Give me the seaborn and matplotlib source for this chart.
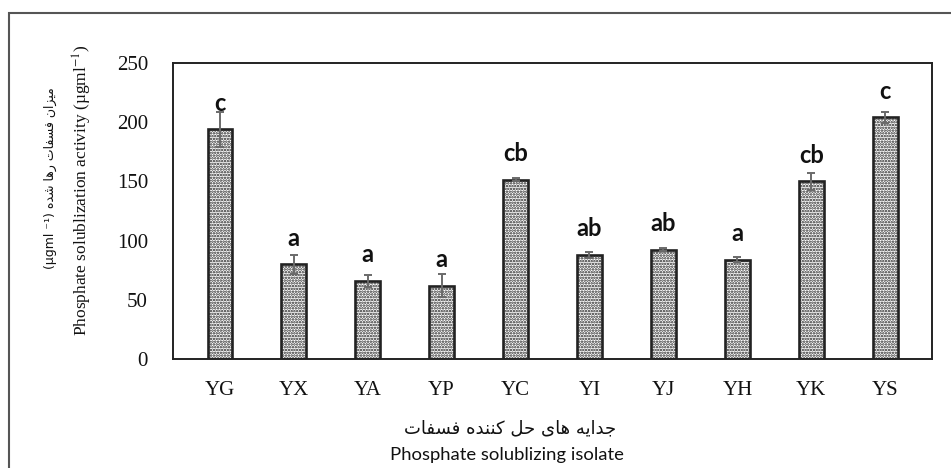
import matplotlib
matplotlib.use("Agg")
import matplotlib.pyplot as plt
import matplotlib.patches as mpatches
import numpy as np
import pandas as pd
import seaborn as sns

# Isolates, mean solubilized phosphate and standard errors
isolates = ["YG", "YX", "YA", "YP", "YC", "YI", "YJ", "YH", "YK", "YS"]
activity = [194, 80, 66, 62, 151.5, 88, 92.3, 84, 150, 204]
errors = [15, 8, 5, 9.5, 1, 2.5, 1.2, 2, 7, 5]
groups = ["c", "a", "a", "a", "cb", "ab", "ab", "a", "cb", "c"]
y_ticks = [0, 50, 100, 150, 200, 250]

xlabel_fa = "جدایه های حل کننده فسفات"
xlabel_en = "Phosphate solublizing isolate"
ylabel_fa = "میزان فسفات رها شده"
ylabel_en = "Phosphate solublization activity (µgml$^{-1}$)"

# --- minimal Persian shaping (presentation forms + visual order) ---
FORMS = {
    "ا": ("\uFE8D", "\uFE8E", None, None),
    "د": ("\uFEA9", "\uFEAA", None, None),
    "ر": ("\uFEAD", "\uFEAE", None, None),
    "ز": ("\uFEAF", "\uFEB0", None, None),
    "ت": ("\uFE95", "\uFE96", "\uFE97", "\uFE98"),
    "ج": ("\uFE9D", "\uFE9E", "\uFE9F", "\uFEA0"),
    "ح": ("\uFEA1", "\uFEA2", "\uFEA3", "\uFEA4"),
    "س": ("\uFEB1", "\uFEB2", "\uFEB3", "\uFEB4"),
    "ش": ("\uFEB5", "\uFEB6", "\uFEB7", "\uFEB8"),
    "ف": ("\uFED1", "\uFED2", "\uFED3", "\uFED4"),
    "ل": ("\uFEDD", "\uFEDE", "\uFEDF", "\uFEE0"),
    "م": ("\uFEE1", "\uFEE2", "\uFEE3", "\uFEE4"),
    "ن": ("\uFEE5", "\uFEE6", "\uFEE7", "\uFEE8"),
    "ه": ("\uFEE9", "\uFEEA", "\uFEEB", "\uFEEC"),
    "ک": ("\uFB8E", "\uFB8F", "\uFB90", "\uFB91"),
    "ی": ("\uFBFC", "\uFBFD", "\uFBFE", "\uFBFF"),
}


def dual(ch):
    return ch in FORMS and FORMS[ch][2] is not None


def shape_fa(text):
    out = []
    for i, ch in enumerate(text):
        if ch not in FORMS:
            out.append(ch)
            continue
        prev_c = i > 0 and dual(text[i - 1])
        next_c = i + 1 < len(text) and text[i + 1] in FORMS and dual(ch)
        iso, fin, ini, med = FORMS[ch]
        if prev_c and next_c:
            out.append(med)
        elif prev_c:
            out.append(fin)
        elif next_c:
            out.append(ini)
        else:
            out.append(iso)
    return "".join(out)[::-1]


plt.rcParams["mathtext.fontset"] = "stix"
plt.rcParams["hatch.linewidth"] = 1.2

df = pd.DataFrame({"isolate": isolates, "activity": activity})

fig = plt.figure(figsize=(9.51, 4.68), dpi=100)
ax = fig.add_axes([173 / 951, 1 - 359 / 468, (932 - 173) / 951, (359 - 63) / 468])

sns.barplot(data=df, x="isolate", y="activity", color="white", width=0.33,
            edgecolor="#222222", linewidth=1.9, errorbar=None, ax=ax,
            hatch="......", zorder=2)

ax.errorbar(np.arange(len(isolates)), activity, yerr=errors, fmt="none",
            ecolor="#6a6a6a", elinewidth=1.4, capsize=3, capthick=1.4, zorder=3)

for i, (v, g) in enumerate(zip(activity, groups)):
    ax.annotate(g, (i, v), xytext=(0, 13.5), textcoords="offset points",
                ha="center", va="baseline", fontsize=17, fontweight="bold",
                family="Lato", color="#111111", zorder=4)

ax.set_ylim(0, 250)
ax.set_yticks(y_ticks)
ax.set_xlabel("")
ax.set_ylabel("")
ax.tick_params(axis="both", length=0, labelsize=15, colors="#111111")
ax.tick_params(axis="y", pad=18)
ax.tick_params(axis="x", pad=16)
for lab in ax.get_xticklabels() + ax.get_yticklabels():
    lab.set_family("Liberation Serif")
for sp in ax.spines.values():
    sp.set_color("#222222")
    sp.set_linewidth(1.4)

# axis titles in Persian and English
fig.text(82 / 951, 1 - 190 / 468, ylabel_en, rotation=90, ha="center", va="center",
         fontsize=12.5, family="Liberation Serif", color="#111111")
fig.text(50 / 951, 1 - 178 / 468, "(µgml ⁻¹) " + shape_fa(ylabel_fa), rotation=90,
         ha="center", va="center", fontsize=9, family="DejaVu Sans", color="#111111")
fig.text(510 / 951, 1 - 428 / 468, shape_fa(xlabel_fa), ha="center", va="center",
         fontsize=13, family="DejaVu Sans", color="#111111")
fig.text(507 / 951, 1 - 455 / 468, xlabel_en, ha="center", va="center",
         fontsize=13.3, family="Lato", color="#111111")

# outer frame
frame = mpatches.Rectangle((9 / 951, -0.2), 1.2, 1.2 - 13 / 468, transform=fig.transFigure,
                           fill=False, edgecolor="#555555", linewidth=1.5, clip_on=False)
fig.add_artist(frame)

fig.savefig("out.png", dpi=100, facecolor="white")
